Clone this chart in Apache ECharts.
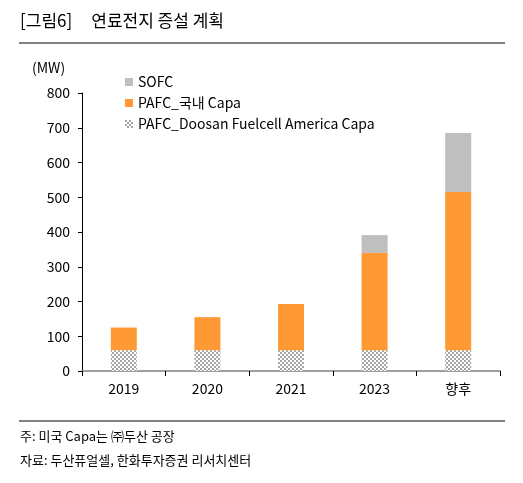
<!DOCTYPE html>
<html>
<head>
<meta charset="utf-8">
<script src="https://cdn.jsdelivr.net/npm/echarts@6/dist/echarts.min.js"></script>
<style>html,body{margin:0;padding:0;background:#fff}#chart{width:523px;height:483px}</style>
</head>
<body>
<div id="chart"></div>
<script>
const categories = ['2019', '2020', '2021', '2023', '향후']
const pafcAmerica = [60, 60, 60, 60, 60]
const pafcDomestic = [65, 95, 133, 280, 455]
const sofc = [0, 0, 0, 51, 170]
const yTicks = [0, 100, 200, 300, 400, 500, 600, 700, 800]

const font = '"Noto Sans CJK KR", "Noto Sans", sans-serif'

// checkered pattern for the US capacity segment
const tile = document.createElement('canvas')
tile.width = 4
tile.height = 4
const ctx = tile.getContext('2d')
ctx.fillStyle = '#ffffff'
ctx.fillRect(0, 0, 4, 4)
ctx.fillStyle = '#a6a6a6'
ctx.fillRect(0, 0, 2, 2)
ctx.fillRect(2, 2, 2, 2)
const checker = { image: tile, repeat: 'repeat' }

const chart = echarts.init(document.getElementById('chart'))
chart.setOption({
  animation: false,
  textStyle: { fontFamily: font },
  grid: { left: 82, right: 23, top: 93, bottom: 112 },
  legend: {
    orient: 'vertical',
    left: 120,
    top: 70,
    itemGap: 7,
    itemWidth: 8,
    itemHeight: 8,
    textStyle: { fontSize: 14, color: '#000', fontFamily: font },
    data: [
      { name: 'SOFC', icon: 'rect' },
      { name: 'PAFC_국내 Capa', icon: 'rect' },
      { name: 'PAFC_Doosan Fuelcell America Capa', icon: 'rect' }
    ]
  },
  xAxis: {
    type: 'category',
    data: categories,
    axisLine: { lineStyle: { color: '#808080', width: 1.5 } },
    axisTick: { show: true, length: 5, lineStyle: { color: '#000' } },
    axisLabel: { color: '#000', fontSize: 14, margin: 11 }
  },
  yAxis: {
    type: 'value',
    min: 0,
    max: 800,
    interval: 100,
    axisLine: { show: true, lineStyle: { color: '#000' } },
    axisTick: { show: true, length: 4, lineStyle: { color: '#000' } },
    axisLabel: { color: '#000', fontSize: 14, margin: 12, formatter: (v) => (yTicks.includes(v) ? String(v) : '') },
    splitLine: { show: false }
  },
  series: [
    {
      name: 'PAFC_Doosan Fuelcell America Capa',
      type: 'bar',
      stack: 'cap',
      barWidth: 26,
      data: pafcAmerica,
      itemStyle: { color: checker }
    },
    {
      name: 'PAFC_국내 Capa',
      type: 'bar',
      stack: 'cap',
      data: pafcDomestic,
      itemStyle: { color: '#ff9933' }
    },
    {
      name: 'SOFC',
      type: 'bar',
      stack: 'cap',
      data: sofc,
      itemStyle: { color: '#bfbfbf' }
    }
  ],
  graphic: [
    { type: 'text', left: 20, top: 12, style: { text: '[그림6]     연료전지 증설 계획', fontSize: 17, fontFamily: font, fill: '#000' } },
    { type: 'line', shape: { x1: 19, y1: 43, x2: 505, y2: 43 }, style: { stroke: '#000', lineWidth: 1 } },
    { type: 'text', left: 32, top: 61, style: { text: '(MW)', fontSize: 14, fontFamily: font, fill: '#000' } },
    { type: 'line', shape: { x1: 19, y1: 421, x2: 505, y2: 421 }, style: { stroke: '#000', lineWidth: 1 } },
    { type: 'text', left: 20, top: 430, style: { text: '주: 미국 Capa는 ㈜두산 공장', fontSize: 13, fontFamily: font, fill: '#000' } },
    { type: 'text', left: 20, top: 454, style: { text: '자료: 두산퓨얼셀, 한화투자증권 리서치센터', fontSize: 13, fontFamily: font, fill: '#000' } }
  ]
})
</script>
</body>
</html>
